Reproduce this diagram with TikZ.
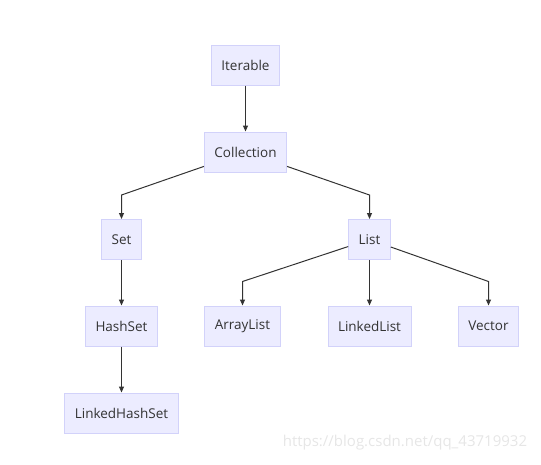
\documentclass[tikz,border=0pt]{standalone}
\usepackage{fontspec}
\setmainfont{Open Sans}
\usetikzlibrary{arrows.meta, calc}
\definecolor{cfill}{HTML}{ECECFF}
\definecolor{cedge}{HTML}{D2D2FA}
\definecolor{cline}{HTML}{333333}
\definecolor{cmark}{HTML}{E6E6E6}
\tikzset{
  every picture/.style={line width=1.2pt},
  cls/.style={draw=cedge, fill=cfill, text=cline, font=\fontsize{13.5}{15}\selectfont,
    inner xsep=10pt, minimum height=40pt, line width=1pt},
  link/.style={-{Triangle[length=6pt, width=5pt]}, draw=cline, line width=1pt},
}
\begin{document}
\begin{tikzpicture}[x=1pt, y=-1pt]
  \useasboundingbox (0,0) rectangle (541,464);
  % nodes
  \node[cls] (iter) at (245.5,65) {Iterable};
  \node[cls] (coll) at (245.5,152) {Collection};
  \node[cls] (set) at (121.5,239.5) {Set};
  \node[cls] (list) at (369.5,239.5) {List};
  \node[cls] (hset) at (121.5,326) {HashSet};
  \node[cls] (alist) at (242.5,326) {ArrayList};
  \node[cls] (llist) at (369.5,326) {LinkedList};
  \node[cls] (vec) at (488.5,326) {Vector};
  \node[cls] (lhset) at (121.5,413) {LinkedHashSet};
  % links
  \draw[link] (iter) -- (coll);
  \draw[link] (coll) -- ($(set.north)+(0,-24)$) -- (set);
  \draw[link] (coll) -- ($(list.north)+(0,-24)$) -- (list);
  \draw[link] (set) -- (hset);
  \draw[link] (hset) -- (lhset);
  \draw[link] (list) -- ($(alist.north)+(0,-24)$) -- (alist);
  \draw[link] (list) -- (llist);
  \draw[link] (list) -- ($(vec.north)+(0,-24)$) -- (vec);
  % watermark
  \node[text=cmark, font=\fontsize{15}{17}\selectfont, anchor=east] (mark) at (531,443) {https://blog.csdn.net/qq\_43719932};
\end{tikzpicture}
\end{document}
